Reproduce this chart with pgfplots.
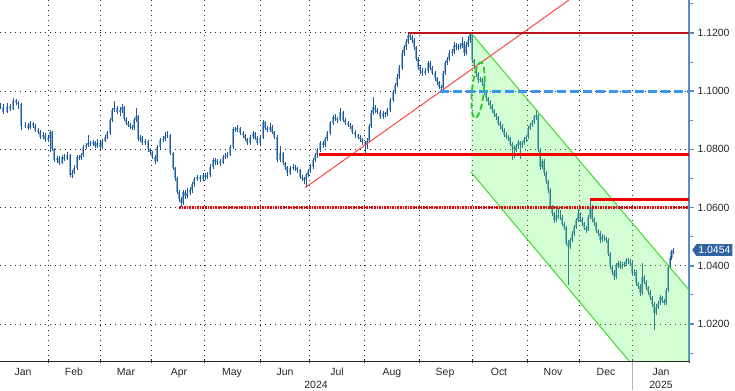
\documentclass[border=0pt]{standalone}
\usepackage{fontspec}
\setmainfont{Liberation Sans}
\usepackage{pgfplots}
\pgfplotsset{compat=1.18}
\usepackage{pgfplotstable}
\usetikzlibrary{shapes.symbols}
\definecolor{wick}{RGB}{30,90,160}
\definecolor{body}{RGB}{135,172,215}
\definecolor{axblue}{RGB}{90,140,200}
\definecolor{trendred}{RGB}{255,70,70}
\definecolor{darkred}{RGB}{190,20,30}
\definecolor{brred}{RGB}{240,0,0}
\definecolor{dashblue}{RGB}{60,150,240}
\definecolor{chgreen}{RGB}{60,220,40}
\definecolor{chfill}{RGB}{91,247,91}
\definecolor{ellgreen}{RGB}{40,200,40}
\definecolor{lblbox}{RGB}{50,100,160}

\pgfplotstableread{
x o c h l
0 1.0952 1.0945 1.0960 1.0938
3 1.0945 1.0930 1.0955 1.0922
7 1.0930 1.0950 1.0958 1.0925
10 1.0950 1.0940 1.0956 1.0932
13 1.0940 1.0968 1.0975 1.0935
16 1.0968 1.0960 1.0974 1.0952
18 1.0960 1.0955 1.0965 1.0940
21 1.0955 1.0880 1.0958 1.0868
25 1.0880 1.0884 1.0893 1.0872
28 1.0884 1.0875 1.0890 1.0866
30 1.0875 1.0890 1.0898 1.0870
33 1.0890 1.0880 1.0895 1.0872
35 1.0880 1.0865 1.0886 1.0858
38 1.0865 1.0860 1.0872 1.0852
40 1.0860 1.0843 1.0866 1.0835
43 1.0843 1.0850 1.0858 1.0836
45 1.0850 1.0832 1.0856 1.0825
48 1.0832 1.0838 1.0846 1.0826
50 1.0838 1.0860 1.0866 1.0790
52 1.0860 1.0800 1.0864 1.0795
54 1.0800 1.0765 1.0806 1.0758
57 1.0765 1.0770 1.0778 1.0752
59 1.0770 1.0753 1.0776 1.0746
62 1.0753 1.0775 1.0782 1.0748
64 1.0775 1.0768 1.0784 1.0760
67 1.0768 1.0780 1.0792 1.0762
70 1.0780 1.0712 1.0784 1.0705
72 1.0712 1.0720 1.0728 1.0702
74 1.0720 1.0735 1.0745 1.0714
77 1.0735 1.0774 1.0782 1.0730
79 1.0774 1.0770 1.0780 1.0762
81 1.0770 1.0780 1.0788 1.0764
83 1.0780 1.0808 1.0814 1.0775
86 1.0808 1.0815 1.0822 1.0800
88 1.0815 1.0822 1.0850 1.0808
90 1.0822 1.0818 1.0830 1.0810
93 1.0818 1.0825 1.0832 1.0810
95 1.0825 1.0812 1.0830 1.0805
97 1.0812 1.0822 1.0835 1.0806
100 1.0822 1.0808 1.0828 1.0800
102 1.0808 1.0830 1.0836 1.0802
105 1.0830 1.0843 1.0850 1.0824
107 1.0843 1.0856 1.0864 1.0836
110 1.0856 1.0900 1.0908 1.0850
112 1.0900 1.0935 1.0942 1.0894
114 1.0935 1.0942 1.0966 1.0928
117 1.0942 1.0930 1.0948 1.0922
120 1.0930 1.0935 1.0944 1.0915
122 1.0935 1.0946 1.0956 1.0926
124 1.0946 1.0905 1.0950 1.0898
126 1.0905 1.0890 1.0912 1.0882
128 1.0890 1.0884 1.0896 1.0876
130 1.0884 1.0878 1.0890 1.0870
132 1.0878 1.0874 1.0884 1.0866
134 1.0874 1.0900 1.0908 1.0868
136 1.0900 1.0915 1.0942 1.0895
138 1.0915 1.0835 1.0918 1.0828
140 1.0835 1.0840 1.0848 1.0826
142 1.0840 1.0822 1.0846 1.0815
145 1.0822 1.0828 1.0836 1.0814
148 1.0828 1.0800 1.0832 1.0792
150 1.0800 1.0790 1.0806 1.0782
152 1.0790 1.0774 1.0796 1.0766
155 1.0774 1.0760 1.0780 1.0748
157 1.0760 1.0808 1.0814 1.0756
160 1.0808 1.0832 1.0838 1.0802
163 1.0832 1.0836 1.0845 1.0826
165 1.0836 1.0845 1.0858 1.0830
167 1.0845 1.0850 1.0862 1.0838
170 1.0850 1.0788 1.0854 1.0780
173 1.0788 1.0735 1.0792 1.0728
175 1.0735 1.0700 1.0740 1.0692
177 1.0700 1.0655 1.0704 1.0646
179 1.0655 1.0630 1.0660 1.0618
181 1.0630 1.0615 1.0636 1.0601
183 1.0615 1.0655 1.0662 1.0608
185 1.0655 1.0640 1.0660 1.0630
187 1.0640 1.0650 1.0668 1.0632
190 1.0650 1.0660 1.0672 1.0642
192 1.0660 1.0680 1.0688 1.0650
194 1.0680 1.0698 1.0705 1.0672
197 1.0698 1.0705 1.0712 1.0690
200 1.0705 1.0698 1.0712 1.0688
203 1.0698 1.0712 1.0720 1.0690
205 1.0712 1.0705 1.0718 1.0696
207 1.0705 1.0712 1.0722 1.0698
210 1.0712 1.0740 1.0748 1.0706
213 1.0740 1.0764 1.0772 1.0734
215 1.0764 1.0755 1.0770 1.0746
217 1.0755 1.0760 1.0768 1.0746
220 1.0760 1.0753 1.0766 1.0744
223 1.0753 1.0774 1.0782 1.0748
225 1.0774 1.0778 1.0786 1.0766
227 1.0778 1.0782 1.0792 1.0770
230 1.0782 1.0808 1.0816 1.0776
233 1.0808 1.0870 1.0878 1.0802
235 1.0870 1.0867 1.0876 1.0858
237 1.0867 1.0873 1.0882 1.0860
240 1.0873 1.0856 1.0878 1.0848
243 1.0856 1.0849 1.0862 1.0840
245 1.0849 1.0835 1.0854 1.0828
247 1.0835 1.0822 1.0840 1.0814
250 1.0822 1.0843 1.0850 1.0816
253 1.0843 1.0856 1.0864 1.0836
255 1.0856 1.0840 1.0860 1.0832
257 1.0840 1.0822 1.0845 1.0815
260 1.0822 1.0839 1.0846 1.0816
263 1.0839 1.0894 1.0902 1.0834
265 1.0894 1.0875 1.0898 1.0868
267 1.0875 1.0867 1.0880 1.0858
270 1.0867 1.0877 1.0890 1.0860
272 1.0877 1.0860 1.0882 1.0852
274 1.0860 1.0843 1.0864 1.0836
277 1.0843 1.0764 1.0848 1.0756
280 1.0764 1.0788 1.0810 1.0758
283 1.0788 1.0753 1.0792 1.0745
285 1.0753 1.0740 1.0758 1.0730
287 1.0740 1.0719 1.0744 1.0710
290 1.0719 1.0736 1.0744 1.0712
293 1.0736 1.0740 1.0750 1.0728
295 1.0740 1.0735 1.0746 1.0726
297 1.0735 1.0729 1.0740 1.0720
300 1.0729 1.0705 1.0734 1.0698
302 1.0705 1.0700 1.0712 1.0690
304 1.0700 1.0695 1.0706 1.0682
306 1.0695 1.0712 1.0718 1.0670
308 1.0712 1.0725 1.0732 1.0705
310 1.0725 1.0740 1.0748 1.0718
313 1.0740 1.0764 1.0772 1.0734
315 1.0764 1.0780 1.0788 1.0756
317 1.0780 1.0798 1.0806 1.0772
320 1.0798 1.0822 1.0830 1.0792
323 1.0822 1.0815 1.0828 1.0806
325 1.0815 1.0835 1.0842 1.0808
327 1.0835 1.0856 1.0864 1.0828
330 1.0856 1.0891 1.0898 1.0850
333 1.0891 1.0911 1.0918 1.0884
335 1.0911 1.0905 1.0920 1.0896
337 1.0905 1.0901 1.0912 1.0892
340 1.0901 1.0928 1.0942 1.0896
343 1.0928 1.0901 1.0932 1.0894
345 1.0901 1.0891 1.0906 1.0882
348 1.0891 1.0884 1.0896 1.0876
350 1.0884 1.0880 1.0890 1.0870
352 1.0880 1.0860 1.0885 1.0852
355 1.0860 1.0849 1.0866 1.0840
358 1.0849 1.0843 1.0854 1.0834
360 1.0843 1.0835 1.0848 1.0826
362 1.0835 1.0825 1.0840 1.0816
365 1.0825 1.0815 1.0830 1.0780
367 1.0815 1.0830 1.0838 1.0800
369 1.0830 1.0880 1.0888 1.0824
371 1.0880 1.0925 1.0934 1.0872
373 1.0925 1.0946 1.0980 1.0918
375 1.0946 1.0935 1.0952 1.0926
377 1.0935 1.0929 1.0942 1.0920
380 1.0929 1.0911 1.0934 1.0904
383 1.0911 1.0925 1.0932 1.0905
385 1.0925 1.0920 1.0930 1.0912
387 1.0920 1.0935 1.0942 1.0914
390 1.0935 1.0970 1.0978 1.0928
393 1.0970 1.0997 1.1005 1.0962
395 1.0997 1.1020 1.1028 1.0990
397 1.1020 1.1049 1.1058 1.1014
399 1.1049 1.1080 1.1090 1.1042
402 1.1080 1.1131 1.1140 1.1072
404 1.1131 1.1150 1.1160 1.1122
406 1.1150 1.1170 1.1180 1.1142
408 1.1170 1.1193 1.1201 1.1162
410 1.1193 1.1185 1.1200 1.1175
412 1.1185 1.1176 1.1192 1.1166
414 1.1176 1.1150 1.1182 1.1142
416 1.1150 1.1110 1.1156 1.1102
418 1.1110 1.1083 1.1116 1.1074
420 1.1083 1.1070 1.1090 1.1060
422 1.1070 1.1063 1.1078 1.1052
425 1.1063 1.1068 1.1078 1.1054
428 1.1068 1.1097 1.1105 1.1062
430 1.1097 1.1080 1.1102 1.1072
432 1.1080 1.1063 1.1086 1.1055
435 1.1063 1.1045 1.1068 1.1036
437 1.1045 1.1030 1.1050 1.1022
439 1.1030 1.1015 1.1036 1.1006
441 1.1015 1.1010 1.1022 1.1001
443 1.1010 1.1063 1.1070 1.1004
445 1.1063 1.1097 1.1104 1.1056
447 1.1097 1.1110 1.1118 1.1090
449 1.1110 1.1131 1.1140 1.1102
452 1.1131 1.1135 1.1145 1.1122
454 1.1135 1.1160 1.1168 1.1128
456 1.1160 1.1150 1.1166 1.1140
458 1.1150 1.1152 1.1162 1.1142
460 1.1152 1.1155 1.1165 1.1144
462 1.1155 1.1166 1.1185 1.1148
464 1.1166 1.1131 1.1172 1.1122
466 1.1131 1.1160 1.1168 1.1125
468 1.1160 1.1175 1.1190 1.1152
470 1.1175 1.1195 1.1201 1.1166
472 1.1195 1.1107 1.1198 1.1098
474 1.1107 1.1085 1.1112 1.1076
476 1.1085 1.1060 1.1090 1.1050
478 1.1060 1.1038 1.1066 1.1028
480 1.1038 1.1040 1.1050 1.1030
482 1.1040 1.1028 1.1046 1.1018
484 1.1028 1.0995 1.1032 1.0986
486 1.0995 1.0975 1.1000 1.0966
488 1.0975 1.0963 1.0980 1.0954
490 1.0963 1.0950 1.0968 1.0940
492 1.0950 1.0935 1.0956 1.0926
494 1.0935 1.0920 1.0940 1.0912
496 1.0920 1.0911 1.0926 1.0902
498 1.0911 1.0890 1.0916 1.0882
500 1.0890 1.0880 1.0896 1.0870
502 1.0880 1.0867 1.0886 1.0858
504 1.0867 1.0850 1.0872 1.0842
506 1.0850 1.0843 1.0858 1.0834
508 1.0843 1.0839 1.0850 1.0828
510 1.0839 1.0820 1.0844 1.0812
512 1.0820 1.0808 1.0826 1.0762
514 1.0808 1.0800 1.0815 1.0770
516 1.0800 1.0810 1.0818 1.0792
518 1.0810 1.0825 1.0832 1.0802
520 1.0825 1.0815 1.0830 1.0766
522 1.0815 1.0822 1.0830 1.0806
524 1.0822 1.0835 1.0842 1.0814
526 1.0835 1.0843 1.0850 1.0826
528 1.0843 1.0874 1.0880 1.0836
530 1.0874 1.0885 1.0892 1.0866
532 1.0885 1.0894 1.0902 1.0876
534 1.0894 1.0910 1.0918 1.0886
536 1.0910 1.0918 1.0936 1.0902
538 1.0918 1.0798 1.0922 1.0790
540 1.0798 1.0740 1.0804 1.0730
542 1.0740 1.0760 1.0768 1.0732
544 1.0760 1.0719 1.0766 1.0710
546 1.0719 1.0690 1.0724 1.0680
548 1.0690 1.0660 1.0696 1.0650
550 1.0660 1.0602 1.0666 1.0594
552 1.0602 1.0580 1.0608 1.0570
554 1.0580 1.0557 1.0586 1.0548
556 1.0557 1.0575 1.0598 1.0550
558 1.0575 1.0568 1.0598 1.0560
560 1.0568 1.0568 1.0592 1.0558
562 1.0568 1.0545 1.0574 1.0536
564 1.0545 1.0533 1.0552 1.0524
566 1.0533 1.0480 1.0538 1.0470
568 1.0480 1.0465 1.0488 1.0334
570 1.0465 1.0489 1.0496 1.0458
572 1.0489 1.0510 1.0518 1.0482
574 1.0510 1.0533 1.0540 1.0502
576 1.0533 1.0557 1.0564 1.0526
578 1.0557 1.0581 1.0594 1.0550
580 1.0581 1.0560 1.0586 1.0552
582 1.0560 1.0547 1.0566 1.0538
584 1.0547 1.0530 1.0552 1.0522
586 1.0530 1.0523 1.0536 1.0514
588 1.0523 1.0568 1.0576 1.0518
590 1.0568 1.0602 1.0628 1.0562
592 1.0602 1.0560 1.0608 1.0552
594 1.0560 1.0547 1.0566 1.0538
596 1.0547 1.0520 1.0552 1.0512
598 1.0520 1.0513 1.0526 1.0504
600 1.0513 1.0489 1.0518 1.0480
602 1.0489 1.0500 1.0508 1.0482
604 1.0500 1.0495 1.0506 1.0486
606 1.0495 1.0489 1.0500 1.0480
608 1.0489 1.0440 1.0494 1.0432
610 1.0440 1.0396 1.0446 1.0388
612 1.0396 1.0380 1.0402 1.0370
614 1.0380 1.0361 1.0386 1.0352
616 1.0361 1.0400 1.0408 1.0356
618 1.0400 1.0410 1.0418 1.0392
620 1.0410 1.0396 1.0416 1.0388
622 1.0396 1.0403 1.0412 1.0390
624 1.0403 1.0405 1.0414 1.0396
626 1.0405 1.0420 1.0428 1.0398
628 1.0420 1.0415 1.0426 1.0406
630 1.0415 1.0410 1.0422 1.0402
632 1.0410 1.0375 1.0416 1.0366
634 1.0375 1.0380 1.0388 1.0366
636 1.0380 1.0341 1.0386 1.0332
638 1.0341 1.0330 1.0346 1.0320
640 1.0330 1.0307 1.0336 1.0298
642 1.0307 1.0361 1.0410 1.0300
644 1.0361 1.0345 1.0368 1.0336
646 1.0345 1.0327 1.0350 1.0318
648 1.0327 1.0310 1.0332 1.0300
650 1.0310 1.0293 1.0316 1.0284
652 1.0293 1.0270 1.0298 1.0260
654 1.0270 1.0238 1.0276 1.0178
656 1.0238 1.0260 1.0268 1.0230
658 1.0260 1.0272 1.0280 1.0252
660 1.0272 1.0293 1.0300 1.0265
662 1.0293 1.0280 1.0298 1.0272
664 1.0280 1.0272 1.0286 1.0264
666 1.0272 1.0317 1.0324 1.0266
668 1.0317 1.0396 1.0404 1.0310
670 1.0396 1.0427 1.0434 1.0390
671.5 1.0427 1.0447 1.0454 1.0420
673 1.0447 1.0454 1.0462 1.0440
}\candles

\begin{document}
\begin{tikzpicture}[x=1bp,y=1bp]
\useasboundingbox (0,-29) rectangle (735,361);
\begin{axis}[
  at={(0,0)}, anchor=south west,
  width=689bp, height=361bp, scale only axis,
  xmin=0, xmax=689, ymin=1.0073, ymax=1.1313,
  axis x line*=bottom, axis y line*=right,
  x axis line style={black!85, line width=0.9bp},
  y axis line style={axblue, line width=1.1bp},
  xtick={23,74,126,179,232,285,337,392,445,499,553,606,661},
  xticklabels={Jan,Feb,Mar,Apr,May,Jun,Jul,Aug,Sep,Oct,Nov,Dec,Jan},
  major x tick style={draw=none},
  minor xtick={48,100,151,204,260,309,364,419,472,527,579,632,689},
  xtick align=center,
  minor x tick style={black!80, line width=0.9bp},
  xminorgrids=true,
  minor x grid style={black!85, line width=0.9bp, dash pattern=on 0.9bp off 4.1bp},
  ytick={1.02,1.04,1.06,1.08,1.10,1.12},
  yticklabels={1.0200,1.0400,1.0600,1.0800,1.1000,1.1200},
  minor ytick={1.01,1.03,1.05,1.07,1.09,1.11,1.13},
  ytick align=outside,
  major y tick style={axblue, line width=1.6bp},
  minor y tick style={axblue, line width=0.9bp},
  major tick length=5bp, minor tick length=4bp,
  ymajorgrids=true,
  major y grid style={black!85, line width=0.9bp, dash pattern=on 0.9bp off 4.1bp},
  ticklabel style={font=\fontsize{10.5}{12}\selectfont, text=black!85},
  xticklabel style={yshift=-1bp},
]
% candle bodies
\addplot[draw=none, mark=none, forget plot,
  error bars/.cd, y dir=plus, y explicit, error mark=none,
  error bar style={draw=body, line width=2.6bp}]
  table[x=x, y expr={min(\thisrow{o},\thisrow{c})},
        y error plus expr={abs(\thisrow{c}-\thisrow{o})}] {\candles};
% wicks
\addplot[draw=none, mark=none, forget plot,
  error bars/.cd, y dir=plus, y explicit, error mark=none,
  error bar style={draw=wick, line width=0.85bp}]
  table[x=x, y=l, y error plus expr={\thisrow{h}-\thisrow{l}}] {\candles};

% green channel (tint over candles)
\addplot[fill=chfill, fill opacity=0.27, draw=none, forget plot]
  coordinates {(471,1.1200) (689,1.0317) (689,1.0073) (629,1.0073) (471,1.0722)} -- cycle;
\addplot[chgreen, line width=1bp, forget plot] coordinates {(471,1.1200) (689,1.0317)};
\addplot[chgreen, line width=1bp, forget plot] coordinates {(471,1.0722) (629,1.0073)};

% level lines
\addplot[trendred, line width=1bp, forget plot] coordinates {(305,1.0668) (569,1.1313)};
\addplot[darkred, line width=2bp, forget plot] coordinates {(408,1.1201) (689,1.1201)};
\addplot[brred, line width=3bp, forget plot] coordinates {(319,1.0784) (689,1.0784)};
\addplot[brred, line width=2.2bp, dash pattern=on 1.6bp off 1bp, forget plot] coordinates {(179,1.0600) (689,1.0600)};
\addplot[brred, line width=3bp, forget plot] coordinates {(590,1.0628) (689,1.0628)};
\addplot[dashblue, line width=2.8bp, dash pattern=on 9bp off 4bp, forget plot] coordinates {(440,1.1000) (689,1.1000)};

% dashed ellipse
\draw[ellgreen, line width=1.8bp, dash pattern=on 6bp off 3bp, rotate around={-6:(axis cs:478,1.1003)}]
  (axis cs:478,1.1003) ellipse [x radius=6bp, y radius=28bp];

\coordinate (lbl) at (axis cs:690,1.0454);
\coordinate (y24) at (axis cs:316,1.0073);
\coordinate (y25) at (axis cs:661,1.0073);
\coordinate (sep) at (axis cs:632,1.0073);
\end{axis}
\node[signal, signal to=west, signal pointer angle=110, fill=lblbox, text=white,
  inner xsep=2bp, inner ysep=2.2bp, anchor=west,
  font=\fontsize{10.5}{12}\selectfont] at ([xshift=2bp]lbl) {1.0454};
\node[anchor=base, font=\fontsize{10.5}{12}\selectfont, text=black!85] at ([yshift=-27bp]y24) {2024};
\node[anchor=base, font=\fontsize{10.5}{12}\selectfont, text=black!85] at ([yshift=-27bp]y25) {2025};
\draw[black!30, line width=1bp] ([yshift=-1bp]sep) -- ([yshift=-29bp]sep);
\end{tikzpicture}
\end{document}
